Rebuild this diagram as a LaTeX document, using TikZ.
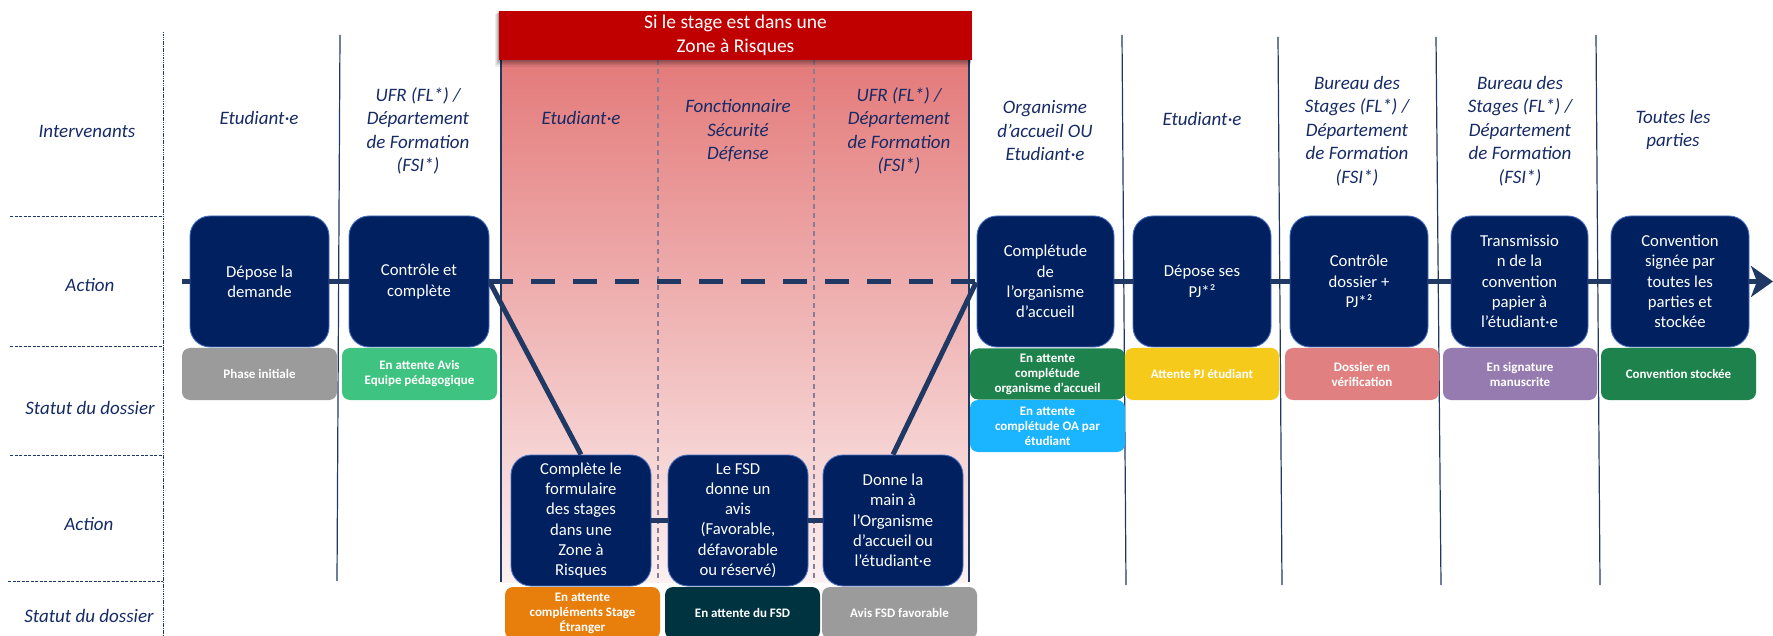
\documentclass[tikz,border=0pt]{standalone}
\usepackage{fontspec}
\setmainfont{Carlito}
\usetikzlibrary{arrows.meta}
\definecolor{navy}{RGB}{0,32,96}
\definecolor{navyedge}{RGB}{70,110,190}
\definecolor{flowc}{RGB}{31,56,100}
\definecolor{txtc}{RGB}{22,42,102}
\definecolor{bannerred}{RGB}{192,0,0}
\definecolor{zonetop}{RGB}{228,122,122}
\definecolor{zonebot}{RGB}{252,240,240}
\definecolor{zonedash}{RGB}{135,125,150}
\definecolor{stgray}{RGB}{155,155,155}
\definecolor{stgreen}{RGB}{62,196,128}
\definecolor{stdkgreen}{RGB}{30,130,76}
\definecolor{stblue}{RGB}{27,180,255}
\definecolor{styellow}{RGB}{246,202,26}
\definecolor{stpink}{RGB}{224,128,128}
\definecolor{stpurple}{RGB}{150,123,177}
\definecolor{storange}{RGB}{232,126,12}
\definecolor{stteal}{RGB}{0,51,64}
\tikzset{
  actbox/.style={draw=navyedge, line width=0.9pt, fill=navy, rounded corners=20pt,
    minimum width=139pt, minimum height=131pt, inner sep=0pt, align=center,
    text=white, font=\fontsize{16.7}{20.3}\selectfont},
  statbox/.style={fill=#1, rounded corners=8pt, minimum width=155pt, minimum height=52pt,
    inner sep=0pt, align=center, text=white, font=\fontsize{13}{15}\selectfont\bfseries},
  hdr/.style={align=center, text=txtc, font=\fontsize{19}{23.5}\selectfont\itshape},
  rowlabel/.style={text=txtc, font=\fontsize{19}{23.5}\selectfont\itshape},
  flow/.style={draw=flowc, line width=5.5pt},
  rowsep/.style={draw=flowc, line width=0.8pt, dash pattern=on 3pt off 1.5pt},
  colsep/.style={draw=flowc, line width=1.2pt},
  zonesep/.style={draw=zonedash, line width=1.2pt, dash pattern=on 5pt off 4pt},
}
\begin{document}
\begin{tikzpicture}[x=1pt,y=-1pt]
\useasboundingbox (0,0) rectangle (1773,636);
% risk zone background
\shade[top color=zonetop, bottom color=zonebot] (501,60) rectangle (969,582);
\draw[zonesep] (658,60) -- (658,582);
\draw[zonesep] (814,60) -- (814,582);
\draw[colsep] (501,60) -- (501,582);
\draw[colsep] (969,60) -- (969,582);
% left column separators
\draw[flowc, line width=0.8pt, dash pattern=on 1.5pt off 0.8pt] (163,32) -- (163,636);
\draw[rowsep] (10,216) -- (163,216);
\draw[rowsep] (10,346) -- (163,346);
\draw[rowsep] (10,455) -- (163,455);
\draw[rowsep] (8,581) -- (163,581);
% column separators
\draw[colsep] (340,35) -- (337,581);
\draw[colsep] (1122,35) -- (1126,585);
\draw[colsep] (1278,37) -- (1282,585);
\draw[colsep] (1436,37) -- (1441,585);
\draw[colsep] (1596,35) -- (1600,585);
% row labels
\node[rowlabel] (l1) at (87,131) {Intervenants};
\node[rowlabel] (l2) at (90,285) {Action};
\node[rowlabel] (l3) at (90,408) {Statut du dossier};
\node[rowlabel] (l4) at (89,524) {Action};
\node[rowlabel] (l5) at (89,616) {Statut du dossier};
% headers
\node[hdr] (h1) at (259,118) {Etudiant·e};
\node[hdr] (h2) at (418,131) {UFR (FL*) /\\Département\\de Formation\\(FSI*)};
\node[hdr] (h3) at (581,118) {Etudiant·e};
\node[hdr] (h4) at (738,131) {Fonctionnaire\\Sécurité\\Défense};
\node[hdr] (h5) at (899,131) {UFR (FL*) /\\Département\\de Formation\\(FSI*)};
\node[hdr] (h6) at (1045,131) {Organisme\\d’accueil OU\\Etudiant·e};
\node[hdr] (h7) at (1202,119) {Etudiant·e};
\node[hdr] (h8) at (1357,131) {Bureau des\\Stages (FL*) /\\Département\\de Formation\\(FSI*)};
\node[hdr] (h9) at (1520,131) {Bureau des\\Stages (FL*) /\\Département\\de Formation\\(FSI*)};
\node[hdr] (h10) at (1673,130) {Toutes les\\parties};
% flow coordinates
\coordinate (start) at (182,281.5);
\coordinate (end) at (1773,281.5);
% action boxes
\node[actbox] (B1) at (259.5,281.5) {Dépose la\\demande};
\node[actbox, minimum width=140pt] (B2) at (419,281.5) {Contrôle et\\complète};
\node[actbox, minimum width=137pt] (B3) at (1045.5,281.5) {Complétude\\de\\l’organisme\\d’accueil};
\node[actbox, minimum width=138pt] (B4) at (1202,281.5) {Dépose ses\\PJ*²};
\node[actbox, minimum width=138pt] (B5) at (1359,281.5) {Contrôle\\dossier +\\PJ*²};
\node[actbox, minimum width=137pt] (B6) at (1519.5,281.5) {Transmissio\\n de la\\convention\\papier à\\l’étudiant·e};
\node[actbox, minimum width=138pt] (B7) at (1680,281.5) {Convention\\signée par\\toutes les\\parties et\\stockée};
\node[actbox, minimum width=140pt] (C1) at (581,520.5) {Complète le\\formulaire\\des stages\\dans une\\Zone à\\Risques};
\node[actbox, minimum width=140pt] (C2) at (738,520.5) {Le FSD\\donne un\\avis\\(Favorable,\\défavorable\\ou réservé)};
\node[actbox, minimum width=140pt] (C3) at (893,520.5) {Donne la\\main à\\l’Organisme\\d’accueil ou\\l’étudiant·e};
% connectors (anchored on box borders)
\draw[flow] (start) -- (B1.west);
\draw[flow] (B1.east) -- (B2.west);
\draw[flow, dash pattern=on 24pt off 18pt] (B2.east) -- (B3.west);
\draw[flow] (B3.east) -- (B4.west);
\draw[flow] (B4.east) -- (B5.west);
\draw[flow] (B5.east) -- (B6.west);
\draw[flow] (B6.east) -- (B7.west);
\draw[flow, -{Stealth[length=22pt,width=31pt,inset=6pt]}] (B7.east) -- (end);
\draw[flow, line width=5pt, shorten <=1pt] (B2.east) -- (C1.north);
\draw[flow, line width=5pt, shorten >=1pt] (C3.north) -- (B3.west);
\draw[flow, line width=5pt] (C1.east) -- (C2.west);
\draw[flow, line width=5pt] (C2.east) -- (C3.west);
% status boxes
\node[statbox=stgray] (S1) at (259.5,374) {Phase initiale};
\node[statbox=stgreen] (S2) at (419.5,374) {En attente Avis\\Equipe pédagogique};
\node[statbox=stdkgreen, minimum height=51pt] (S3) at (1047.5,374) {En attente\\complétude\\organisme d’accueil};
\node[statbox=stblue] (S4) at (1047.5,426) {En attente\\complétude OA par\\étudiant};
\node[statbox=styellow, minimum width=154pt] (S5) at (1202,374) {Attente PJ étudiant};
\node[statbox=stpink, minimum width=154pt] (S6) at (1362,374) {Dossier en\\vérification};
\node[statbox=stpurple, minimum width=154pt] (S7) at (1520,374) {En signature\\manuscrite};
\node[statbox=stdkgreen] (S8) at (1678.5,374) {Convention stockée};
\node[statbox=storange] (S9) at (582.5,613) {En attente\\compléments Stage\\Étranger};
\node[statbox=stteal] (S10) at (742.5,613) {En attente du FSD};
\node[statbox=stgray] (S11) at (899.5,613) {Avis FSD favorable};
% banner soft shadow
\foreach \k in {1,...,6} {
  \fill[black, opacity=0.07] (499-0.6*\k,11+0.5*\k) rectangle (972-0.3*\k,60+1.1*\k);
}
\node[fill=bannerred, minimum width=473pt, minimum height=49pt, inner sep=0pt,
  align=center, text=white, font=\fontsize{19.5}{24}\selectfont]
  (banner) at (735.5,35.5) {Si le stage est dans une\\Zone à Risques};
\end{tikzpicture}
\end{document}
